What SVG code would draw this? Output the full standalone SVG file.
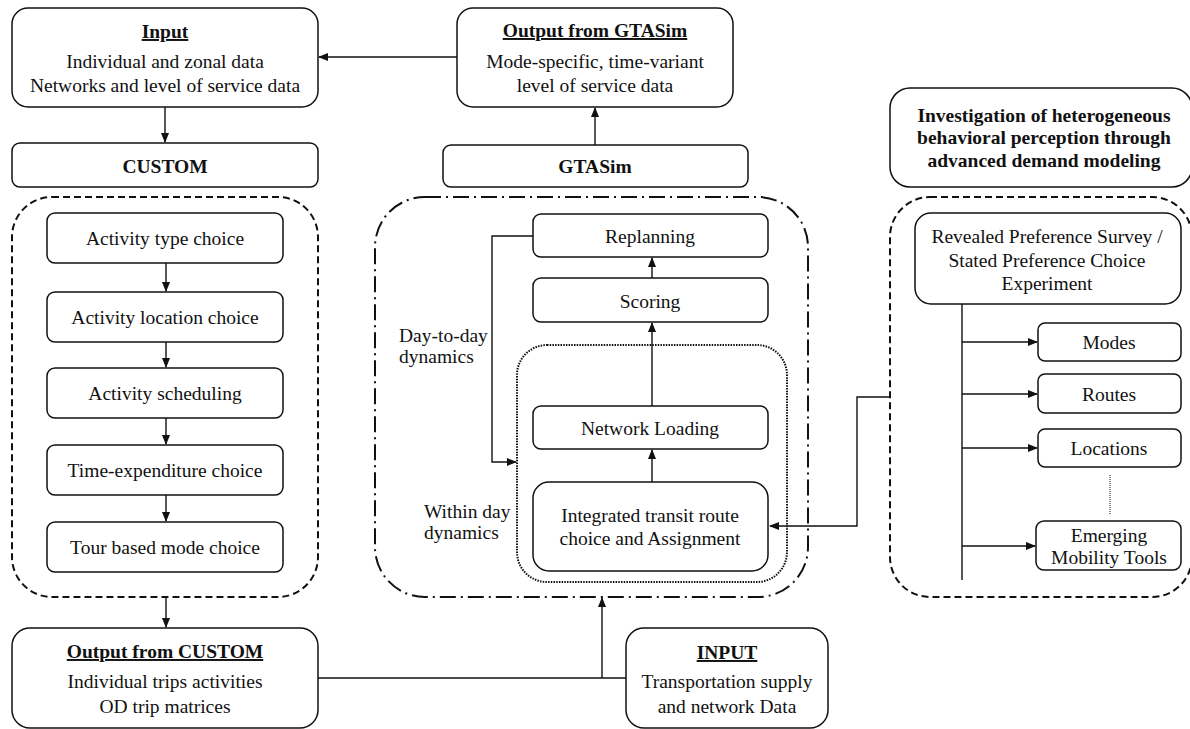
<svg xmlns="http://www.w3.org/2000/svg" width="1190" height="729" viewBox="0 0 1190 729">
<defs>
<style>
text{font-family:"Liberation Serif","Times New Roman",serif;font-size:19.5px;fill:#111;text-anchor:middle}
.b{font-weight:bold}
.u{text-decoration:underline}
.l{text-anchor:start}
.box{fill:#fff;stroke:#111;stroke-width:1.5}
.ln{fill:none;stroke:#111;stroke-width:1.4}
.dash{fill:none;stroke:#111;stroke-width:2;stroke-dasharray:7 4}
.dd{fill:none;stroke:#111;stroke-width:2;stroke-dasharray:16 5 2 5}
.dot{fill:none;stroke:#111;stroke-width:2;stroke-dasharray:1.5 1.2}
</style>
<marker id="ah" markerWidth="10" markerHeight="8" refX="9" refY="4" orient="auto" markerUnits="userSpaceOnUse">
<path d="M0,0 L10,4 L0,8 Z" fill="#111"/>
</marker>
</defs>

<!-- containers -->
<g id="custom-group"><rect class="dash" x="12" y="197" width="306" height="400" rx="40"/></g>
<g id="gtasim-group"><rect class="dd" x="375" y="197" width="433" height="400" rx="50"/></g>
<g id="within-day-group"><rect class="dot" x="517" y="345" width="270" height="237" rx="30"/></g>
<g id="survey-group"><rect class="dash" x="890" y="197" width="302" height="400" rx="40"/></g>

<!-- connectors -->
<g id="connectors">
<path class="ln" d="M457,57 H319" marker-end="url(#ah)"/>
<path class="ln" d="M165,107 V142" marker-end="url(#ah)"/>
<path class="ln" d="M595,145 V108" marker-end="url(#ah)"/>
<path class="ln" d="M166,263 V291" marker-end="url(#ah)"/>
<path class="ln" d="M166,342 V367" marker-end="url(#ah)"/>
<path class="ln" d="M166,418 V444" marker-end="url(#ah)"/>
<path class="ln" d="M166,495 V521" marker-end="url(#ah)"/>
<path class="ln" d="M166,597 V627" marker-end="url(#ah)"/>
<path class="ln" d="M652,278 V258" marker-end="url(#ah)"/>
<path class="ln" d="M652,406 V323" marker-end="url(#ah)"/>
<path class="ln" d="M652,482 V450" marker-end="url(#ah)"/>
<path class="ln" d="M533,236 H492 V462 H516" marker-end="url(#ah)"/>
<path class="ln" d="M890,397 H857 V526 H770" marker-end="url(#ah)"/>
<path class="ln" d="M318,678 H626"/>
<path class="ln" d="M602,678 V598" marker-end="url(#ah)"/>
<path class="ln" d="M962,304 V580"/>
<path class="ln" d="M962,342 H1037" marker-end="url(#ah)"/>
<path class="ln" d="M962,394 H1037" marker-end="url(#ah)"/>
<path class="ln" d="M962,448 H1037" marker-end="url(#ah)"/>
<path class="ln" d="M962,546 H1035" marker-end="url(#ah)"/>
<path fill="none" stroke="#111" stroke-width="1" stroke-dasharray="1 1" d="M1110,475 V515"/>
</g>

<!-- nodes -->
<g id="input">
<rect class="box" x="12" y="8" width="306" height="99" rx="16"/>
<text class="b u" x="165" y="38">Input</text>
<text x="165" y="68">Individual and zonal data</text>
<text x="165" y="92">Networks and level of service data</text>
</g>
<g id="output-gtasim">
<rect class="box" x="457" y="8" width="276" height="99" rx="16"/>
<text class="b u" x="595" y="37">Output from GTASim</text>
<text x="595" y="68">Mode-specific, time-variant</text>
<text x="595" y="92">level of service data</text>
</g>
<g id="custom">
<rect class="box" x="12" y="143" width="306" height="44" rx="8"/>
<text class="b" x="165" y="173">CUSTOM</text>
</g>
<g id="gtasim">
<rect class="box" x="443" y="145" width="305" height="42" rx="8"/>
<text class="b" x="595" y="173">GTASim</text>
</g>
<g id="investigation">
<rect class="box" x="890" y="88" width="302" height="99" rx="20"/>
<text class="b" x="1044" y="122">Investigation of heterogeneous</text>
<text class="b" x="1044" y="144">behavioral perception through</text>
<text class="b" x="1044" y="167">advanced demand modeling</text>
</g>

<g id="activity-type">
<rect class="box" x="47" y="213" width="236" height="50" rx="8"/>
<text x="165" y="245">Activity type choice</text>
</g>
<g id="activity-location">
<rect class="box" x="47" y="292" width="236" height="50" rx="8"/>
<text x="165" y="324">Activity location choice</text>
</g>
<g id="activity-scheduling">
<rect class="box" x="47" y="368" width="236" height="50" rx="8"/>
<text x="165" y="400">Activity scheduling</text>
</g>
<g id="time-expenditure">
<rect class="box" x="47" y="445" width="236" height="50" rx="8"/>
<text x="165" y="477">Time-expenditure choice</text>
</g>
<g id="tour-mode">
<rect class="box" x="47" y="522" width="236" height="50" rx="8"/>
<text x="165" y="554">Tour based mode choice</text>
</g>

<g id="replanning">
<rect class="box" x="533" y="214" width="235" height="43" rx="8"/>
<text x="650" y="243">Replanning</text>
</g>
<g id="scoring">
<rect class="box" x="533" y="278" width="235" height="44" rx="8"/>
<text x="650" y="308">Scoring</text>
</g>
<g id="network-loading">
<rect class="box" x="533" y="406" width="235" height="43" rx="8"/>
<text x="650" y="435">Network Loading</text>
</g>
<g id="integrated">
<rect class="box" x="533" y="482" width="235" height="89" rx="16"/>
<text x="650" y="522">Integrated transit route</text>
<text x="650" y="545">choice and Assignment</text>
</g>
<g id="labels">
<text class="l" x="399" y="342">Day-to-day</text>
<text class="l" x="399" y="363">dynamics</text>
<text class="l" x="424" y="518">Within day</text>
<text class="l" x="424" y="539">dynamics</text>
</g>

<g id="rp-sp">
<rect class="box" x="915" y="213" width="266" height="91" rx="16"/>
<text x="1047" y="243">Revealed Preference Survey /</text>
<text x="1047" y="267">Stated Preference Choice</text>
<text x="1047" y="290">Experiment</text>
</g>
<g id="modes">
<rect class="box" x="1038" y="323" width="143" height="38" rx="7"/>
<text x="1109" y="349">Modes</text>
</g>
<g id="routes">
<rect class="box" x="1038" y="374" width="143" height="39" rx="7"/>
<text x="1109" y="401">Routes</text>
</g>
<g id="locations">
<rect class="box" x="1038" y="429" width="143" height="38" rx="7"/>
<text x="1109" y="455">Locations</text>
</g>
<g id="emerging">
<rect class="box" x="1036" y="521" width="145" height="49" rx="8"/>
<text x="1109" y="542">Emerging</text>
<text x="1109" y="564">Mobility Tools</text>
</g>

<g id="output-custom">
<rect class="box" x="12" y="628" width="306" height="100" rx="18"/>
<text class="b u" x="165" y="658">Output from CUSTOM</text>
<text x="165" y="688">Individual trips activities</text>
<text x="165" y="713">OD trip matrices</text>
</g>
<g id="input-supply">
<rect class="box" x="626" y="628" width="202" height="100" rx="18"/>
<text class="b u" x="727" y="659">INPUT</text>
<text x="727" y="688">Transportation supply</text>
<text x="727" y="713">and network Data</text>
</g>
</svg>
